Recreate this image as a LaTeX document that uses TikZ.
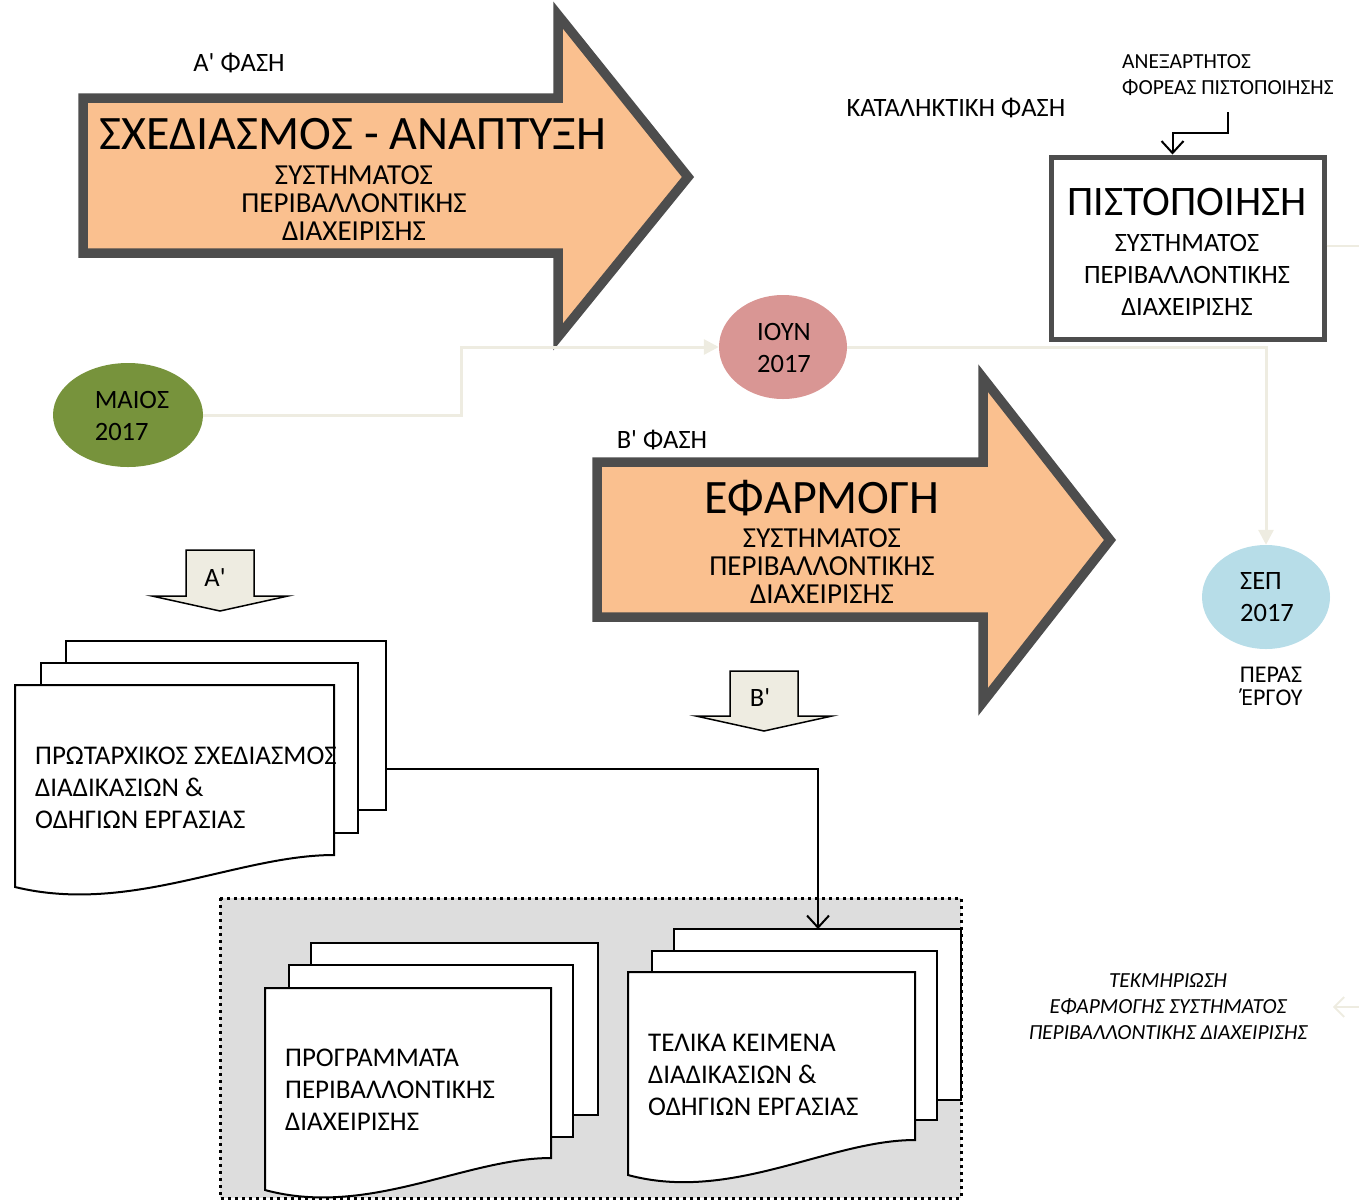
\documentclass[tikz,border=0pt]{standalone}
\usepackage{fontspec}
\setmainfont{Carlito}[Ligatures=TeXOff]
\newfontfamily\altgr{Open Sans}
\usetikzlibrary{shapes.geometric,arrows.meta}
\definecolor{peach}{RGB}{250,192,143}
\definecolor{darkedge}{RGB}{77,77,77}
\definecolor{beige}{RGB}{238,236,225}
\definecolor{olivegr}{RGB}{119,147,60}
\definecolor{rosec}{RGB}{217,150,148}
\definecolor{skyb}{RGB}{183,221,232}
\definecolor{boxgray}{RGB}{221,221,221}
\newcommand\fsz[2]{\fontsize{#1pt}{#2pt}\selectfont}
\newcommand\pagerect[4]{\draw[page] (#1,#2) rectangle (#3,#4);}
\newcommand\pagewave[5]{\draw[page] (#1,#2) -- (#3,#2) -- (#3,#4) .. controls ({#1+0.7*(#3-#1)},#4) and ({#1+0.36*(#3-#1)},{#5+28}) .. (#1,#5) -- cycle;}
\begin{document}
\begin{tikzpicture}[x=1pt,y=-1pt,
  bigarrow/.style={fill=peach,draw=darkedge,line width=9.5pt,line join=miter},
  downarr/.style={fill=beige,draw=black,line width=1.5pt,line join=miter},
  conn/.style={draw=beige,line width=3pt,-{Triangle[length=15pt,width=15pt]}},
  connplain/.style={draw=beige,line width=2.5pt},
  blk/.style={draw=black,line width=2pt,-{Straight Barb[length=12pt,width=22pt,line width=2pt]}},
  page/.style={fill=white,draw=black,line width=2pt,line join=miter},
  dotbox/.style={fill=boxgray,draw=black,line width=3pt,dash pattern=on 3pt off 4pt},
  ell/.style={ellipse,inner sep=0pt,minimum width=150pt,minimum height=104pt},
  lab/.style={font=\fsz{26.5}{30}},
  sub/.style={font=\fsz{29}{28},align=center},
  doct/.style={font=\fsz{27}{32},align=left,anchor=west,inner sep=0pt},
  eltext/.style={font=\fsz{26.5}{32},align=left},
]
\useasboundingbox (0,0) rectangle (1359,1200);
% big arrows
\draw[bigarrow] (83,98) -- (558,98) -- (558,15) -- (688,177) -- (558,337) -- (558,253) -- (83,253) -- cycle;
\draw[bigarrow] (597,462) -- (983,462) -- (983,378) -- (1110,540) -- (983,702) -- (983,617) -- (597,617) -- cycle;
\node[font=\fsz{48}{50}] (t1) at (353,134) {ΣΧΕΔΙΑΣΜΟΣ - ΑΝΑΠΤΥΞΗ};
\node[sub] (s1) at (354,203) {ΣΥΣΤΗΜΑΤΟΣ\\ΠΕΡΙΒΑΛΛΟΝΤΙΚΗΣ\\ΔΙΑΧΕΙΡΙΣΗΣ};
\node[font=\fsz{48}{50}] (t2) at (822,498) {ΕΦΑΡΜΟΓΗ};
\node[sub] (s2) at (822,566) {ΣΥΣΤΗΜΑΤΟΣ\\ΠΕΡΙΒΑΛΛΟΝΤΙΚΗΣ\\ΔΙΑΧΕΙΡΙΣΗΣ};
% labels
\node[lab] (fa) at (239,63) {Α' ΦΑΣΗ};
\node[lab] (fk) at (956,108) {ΚΑΤΑΛΗΚΤΙΚΗ ΦΑΣΗ};
\node[lab] (fb) at (662,440) {Β' ΦΑΣΗ};
\node[font=\fsz{21.5}{26},align=left,anchor=west,inner sep=0pt] (foreas) at (1122,75) {ΑΝΕΞΑΡΤΗΤΟΣ\\ΦΟΡΕΑΣ ΠΙΣΤΟΠΟΙΗΣΗΣ};
% certification box
\node[draw=darkedge,line width=5pt,minimum width=273pt,minimum height=182pt] (pist) at (1187.5,248) {};
\node[font=\fsz{42}{44}] (pt) at (1187,202) {ΠΙΣΤΟΠΟΙΗΣΗ};
\node[font=\fsz{26.5}{32},align=center] (ps) at (1187,275) {ΣΥΣΤΗΜΑΤΟΣ\\ΠΕΡΙΒΑΛΛΟΝΤΙΚΗΣ\\ΔΙΑΧΕΙΡΙΣΗΣ};
\coordinate (fsrc) at (1228,112);
\draw[blk] (fsrc) -- ++(0,21) -| ([xshift=-15pt]pist.north);
\coordinate (pistout) at (1359,246);
\draw[connplain] (pist.east |- pistout) -- (pistout);
% ellipses
\node[ell,fill=olivegr] (maios) at (128,415) {};
\node[eltext] (maiost) at (132,416) {ΜΑΙΟΣ\\2017};
\node[ell,fill=rosec,minimum width=128pt] (ioun) at (783,347) {};
\node[eltext,align=center] (iount) at (784,348) {ΙΟΥΝ\\2017};
\node[ell,fill=skyb,minimum width=128pt] (sep) at (1266,597) {};
\node[eltext,align=left] (sept) at (1267,597) {ΣΕΠ\\2017};
\node[font=\fsz{24}{23},align=center] (peras) at (1271,686) {ΠΕΡΑΣ\\{\altgr\fsz{22}{23}Έ}ΡΓΟΥ};
\draw[conn] (maios.east) -- ++(258,0) |- (ioun.west);
\draw[conn] (ioun.east) -| (sep.north);
% down arrows
\draw[downarr] (186,550) -- (254,550) -- (254,596) -- (288,596) -- (220,611) -- (152,596) -- (186,596) -- cycle;
\node[lab] (al) at (215,578) {Α'};
\draw[downarr] (730,671) -- (798,671) -- (798,716) -- (832,716) -- (764,731) -- (696,716) -- (730,716) -- cycle;
\node[lab] (bl) at (760,698) {Β'};
% first doc stack
\pagerect{66}{641}{386}{810}
\pagerect{41}{663}{358}{833}
\pagewave{15}{685}{334}{855}{887}
\node[doct] (d1) at (35,788) {ΠΡΩΤΑΡΧΙΚΟΣ ΣΧΕΔΙΑΣΜΟΣ\\ΔΙΑΔΙΚΑΣΙΩΝ \&\\ΟΔΗΓΙΩΝ ΕΡΓΑΣΙΑΣ};
% dotted box
\draw[dotbox] (220,898) rectangle (961,1198);
\pagerect{311}{943}{598}{1115}
\pagerect{289}{965}{573}{1137}
\pagewave{265}{988}{551}{1158}{1190}
\node[doct] (d2) at (285,1090) {ΠΡΟΓΡΑΜΜΑΤΑ\\ΠΕΡΙΒΑΛΛΟΝΤΙΚΗΣ\\ΔΙΑΧΕΙΡΙΣΗΣ};
\pagerect{674}{929}{961}{1100}
\pagerect{652}{951}{937}{1120}
\pagewave{628}{972}{915}{1140}{1175}
\node[doct] (d3) at (648,1075) {ΤΕΛΙΚΑ ΚΕΙΜΕΝΑ\\ΔΙΑΔΙΚΑΣΙΩΝ \&\\ΟΔΗΓΙΩΝ ΕΡΓΑΣΙΑΣ};
\coordinate (d1out) at (386,769);
\coordinate (d3in) at (818,929);
\draw[blk] (d1out) -| (d3in);
% documentation note
\node[font=\fsz{21.5}{26}\itshape,align=center] (tek) at (1168,1007) {ΤΕΚΜΗΡΙΩΣΗ\\ΕΦΑΡΜΟΓΗΣ ΣΥΣΤΗΜΑΤΟΣ\\ΠΕΡΙΒΑΛΛΟΝΤΙΚΗΣ ΔΙΑΧΕΙΡΙΣΗΣ};
\coordinate (tekfrom) at (1359,1007);
\draw[draw=beige,line width=2pt,-{Straight Barb[length=10pt,width=20pt,line width=2pt]},shorten >=22pt] (tekfrom) -- (tek.east |- tekfrom);
\end{tikzpicture}
\end{document}
